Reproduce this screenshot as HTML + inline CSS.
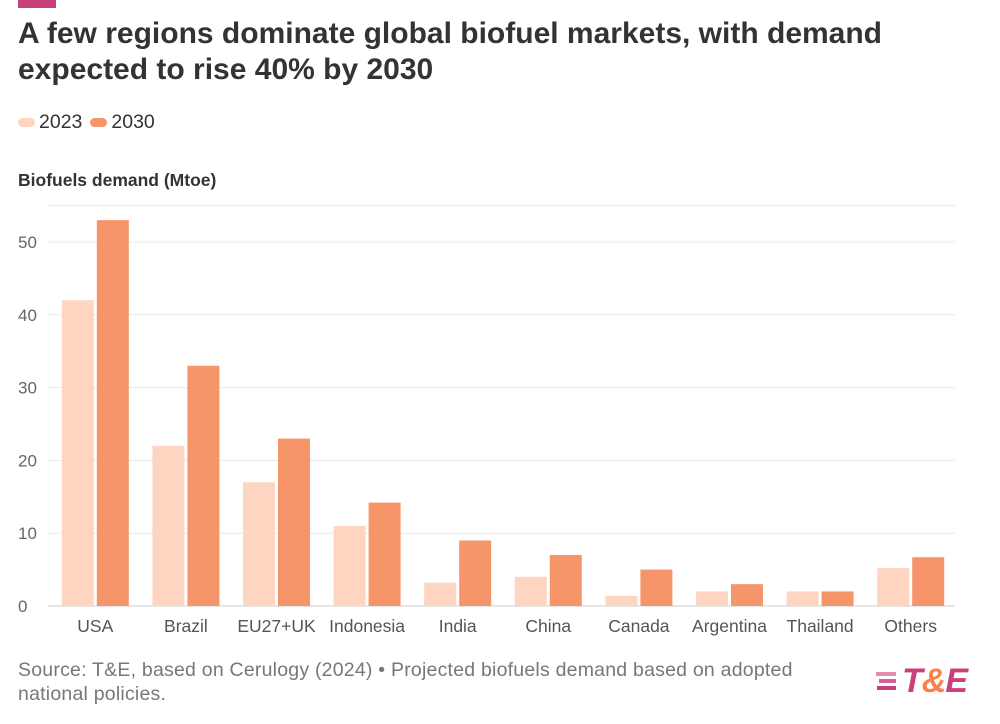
<!DOCTYPE html>
<html><head><meta charset="utf-8"><style>
body{margin:0;width:1000px;height:724px;background:#fff;font-family:"Liberation Sans",Arial,sans-serif;position:relative;overflow:hidden;color:#333}
.abs{position:absolute}
</style></head><body>
<div class="abs" style="left:18px;top:0;width:38px;height:8px;background:#c9407a"></div>
<div class="abs" style="left:18px;top:16px;font-size:30px;font-weight:bold;line-height:36px;color:#333;letter-spacing:0px">A few regions dominate global biofuel markets, with demand<br>expected to rise 40% by 2030</div>
<div class="abs" style="left:18px;top:111px;font-size:19.5px;display:flex;align-items:center">
<span style="display:flex;align-items:center"><span style="display:inline-block;width:17px;height:9px;border-radius:4.5px;background:#fdd5c0;margin-right:4px"></span>2023</span>
<span style="display:flex;align-items:center;margin-left:8px"><span style="display:inline-block;width:17px;height:9px;border-radius:4.5px;background:#f7956a;margin-right:4px"></span>2030</span>
</div>
<div class="abs" style="left:18px;top:170px;font-size:17.5px;font-weight:bold">Biofuels demand (Mtoe)</div>
<svg class="abs" style="left:0;top:0" width="1000" height="724" id="chart"></svg>
<div class="abs" style="left:18px;top:658px;font-size:19.5px;letter-spacing:0.22px;line-height:24px;color:#777">Source: T&amp;E, based on Cerulogy (2024) • Projected biofuels demand based on adopted<br>national policies.</div>
<div class="abs" style="left:876px;top:662px;display:flex;align-items:center">
<svg width="26" height="26"><rect x="0" y="3" width="20" height="4" fill="#e68bb0"/><rect x="3" y="10" width="17" height="4" fill="#d9609a"/><rect x="1" y="17" width="19" height="4" fill="#c9407a"/></svg>
<span style="font-size:34px;font-weight:bold;font-style:italic;color:#c9407a;letter-spacing:-1px">T<span style="color:#f7834a">&amp;</span>E</span>
</div>
<script>
const categories=["USA","Brazil","EU27+UK","Indonesia","India","China","Canada","Argentina","Thailand","Others"];
const values2023=[42,22,17,11,3.2,4,1.4,2,2,5.2];
const values2030=[53,33,23,14.2,9,7,5,3,2,6.7];
const yTicks=[0,10,20,30,40,50];
const svg=document.getElementById('chart');
const NS='http://www.w3.org/2000/svg';
const x0=50,bandW=90.6,y0=606,pxPer=7.28;
const yS=v=>y0-v*pxPer;
function mk(t,a){const e=document.createElementNS(NS,t);for(const k in a)e.setAttribute(k,a[k]);svg.appendChild(e);return e;}
[...yTicks,55].forEach(t=>{
  const l=mk('line',{x1:48,x2:955,y1:yS(t),y2:yS(t),stroke:t===0?'#ccc':'#e8e8e8','stroke-width':1});
  
  
});
yTicks.forEach(t=>{
  const tx=mk('text',{x:18,y:yS(t)+6,'font-size':17,fill:'#666','font-family':'Liberation Sans, sans-serif'});
  tx.textContent=t;
  
  
});
categories.forEach((c,i)=>{
  const cx=x0+bandW*i+bandW/2;
  const b1=mk('rect',{x:cx-33.5,y:yS(values2023[i]),width:32,height:values2023[i]*pxPer,fill:'#fdd5c0'});
  
  
  const b2=mk('rect',{x:cx+1.5,y:yS(values2030[i]),width:32,height:values2030[i]*pxPer,fill:'#f7956a'});
  
  
  const tx=mk('text',{x:cx,y:632,'font-size':17.5,fill:'#555','text-anchor':'middle','font-family':'Liberation Sans, sans-serif'});
  tx.textContent=c;
  
  
});
</script>
</body></html>
